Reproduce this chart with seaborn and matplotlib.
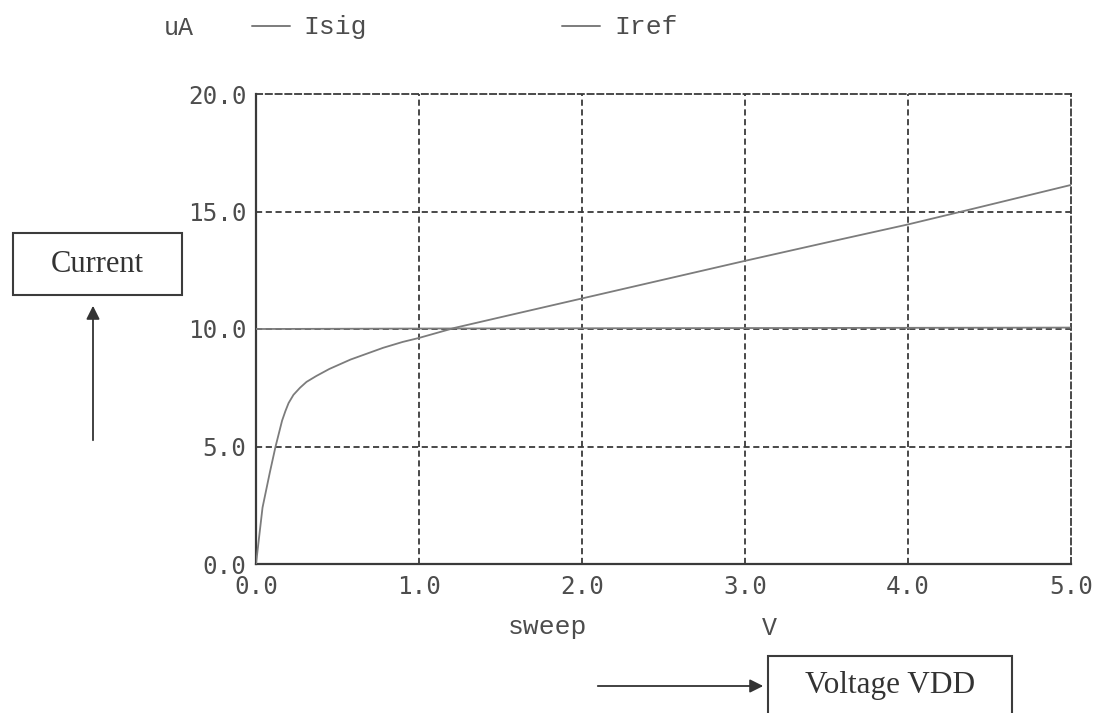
import matplotlib
matplotlib.use("Agg")
import matplotlib.pyplot as plt
import numpy as np
import pandas as pd
import seaborn as sns
from matplotlib.lines import Line2D
from matplotlib.patches import Rectangle, FancyArrowPatch

# Sweep voltage (V) and simulated currents (uA)
vdd_isig = [0.0, 0.04, 0.085, 0.12, 0.16, 0.18, 0.20, 0.23, 0.27, 0.31, 0.37,
            0.45, 0.58, 0.68, 0.78, 0.9, 1.0, 1.22, 1.5, 2.0, 2.5, 3.0, 3.5,
            4.0, 4.36, 5.0]
isig = [0.0, 2.4, 3.9, 5.0, 6.1, 6.5, 6.85, 7.2, 7.5, 7.75, 8.0,
        8.3, 8.7, 8.95, 9.2, 9.45, 9.62, 10.05, 10.5, 11.3, 12.1, 12.9, 13.68,
        14.45, 15.05, 16.13]
vdd_iref = [0.0, 1.0, 2.0, 3.0, 4.0, 5.0]
iref = [10.0, 10.02, 10.03, 10.04, 10.05, 10.06]

x_ticks = [0.0, 1.0, 2.0, 3.0, 4.0, 5.0]
y_ticks = [0.0, 5.0, 10.0, 15.0, 20.0]
x_tick_labels = ["0.0", "1.0", "2.0", "3.0", "4.0", "5.0"]
y_tick_labels = ["0.0", "5.0", "10.0", "15.0", "20.0"]
series_names = ["Isig", "Iref"]

df = pd.concat([
    pd.DataFrame({"sweep": vdd_isig, "current": isig, "signal": series_names[0]}),
    pd.DataFrame({"sweep": vdd_iref, "current": iref, "signal": series_names[1]}),
], ignore_index=True)

sns.set_style("white")

W, H = 1102, 713
fig = plt.figure(figsize=(W / 100, H / 100), dpi=100)
fig.patch.set_facecolor("white")


def fx(px):
    return px / W


def fy(py):
    return 1 - py / H


ax = fig.add_axes([fx(256), fy(564), (1071 - 256) / W, (564 - 94) / H])
ax.set_facecolor("white")

trace_col = "#7c7c7c"
grid_col = "#3a3a3a"
text_col = "#4d4d4d"
dash = (0, (3.4, 2.0))

sns.lineplot(data=df, x="sweep", y="current", hue="signal",
             palette={series_names[0]: trace_col, series_names[1]: trace_col},
             estimator=None, sort=False, legend=False, linewidth=1.3, ax=ax,
             zorder=3)

ax.set_xlim(0, 5)
ax.set_ylim(0, 20)
ax.set_xticks(x_ticks)
ax.set_yticks(y_ticks)
mono = "DejaVu Sans Mono"
ax.set_xticklabels(x_tick_labels, family=mono, size=17.5, color=text_col)
ax.set_yticklabels(y_tick_labels, family=mono, size=17.5, color=text_col)
ax.tick_params(axis="both", length=0)
ax.tick_params(axis="x", pad=8)
ax.tick_params(axis="y", pad=7)
ax.set_xlabel("")
ax.set_ylabel("")

# dashed interior grid
for xv in x_ticks[1:-1]:
    ax.axvline(xv, color=grid_col, lw=1.3, ls=dash, zorder=1)
for yv in y_ticks[1:-1]:
    ax.axhline(yv, color=grid_col, lw=1.3, ls=dash, zorder=1)

# frame: solid left/bottom, dashed top/right
for side in ["left", "bottom"]:
    ax.spines[side].set_color("#3a3a3a")
    ax.spines[side].set_linewidth(1.6)
for side in ["top", "right"]:
    ax.spines[side].set_color(grid_col)
    ax.spines[side].set_linewidth(1.3)
    ax.spines[side].set_linestyle(dash)

# header legend
legend_font = "Liberation Mono"
fig.text(fx(164), fy(35), "uA", family=legend_font, size=18,
         color=text_col, va="baseline", ha="left")
for (x0, x1, tx), name in zip([(252, 290, 303), (562, 600, 614)], series_names):
    fig.add_artist(Line2D([fx(x0), fx(x1)], [fy(26), fy(26)],
                          transform=fig.transFigure, color=trace_col, lw=1.4))
    fig.text(fx(tx), fy(34), name, family=legend_font, size=19,
             color=text_col, va="baseline", ha="left")

# axis captions under the plot
fig.text(fx(547), fy(634), "sweep", family=legend_font, size=19,
         color=text_col, va="baseline", ha="center")
fig.text(fx(769), fy(635), "V", family=legend_font, size=18,
         color=text_col, va="baseline", ha="center")

# boxed annotations with arrows
serif = "Liberation Serif"
box_col = "#3c3c3c"
fig.add_artist(Rectangle((fx(13), fy(295)), fx(182) - fx(13), fy(233) - fy(295),
                         transform=fig.transFigure, fill=False,
                         edgecolor=box_col, lw=1.5))
fig.text(fx(97), fy(272), "Current", family=serif, size=22, color="#333333",
         va="baseline", ha="center")
fig.add_artist(FancyArrowPatch((fx(93), fy(443)), (fx(93), fy(303)),
                               transform=fig.transFigure, arrowstyle="-|>",
                               mutation_scale=20, lw=1.3, color="#333333"))

fig.add_artist(Rectangle((fx(768), fy(730)), fx(1012) - fx(768), fy(656) - fy(730),
                         transform=fig.transFigure, fill=False,
                         edgecolor=box_col, lw=1.5, clip_on=False))
fig.text(fx(890), fy(693), "Voltage VDD", family=serif, size=22.5,
         color="#333333", va="baseline", ha="center")
fig.add_artist(FancyArrowPatch((fx(595), fy(686)), (fx(766), fy(686)),
                               transform=fig.transFigure, arrowstyle="-|>",
                               mutation_scale=20, lw=1.3, color="#333333"))

fig.savefig("out.png", dpi=100, facecolor="white")
